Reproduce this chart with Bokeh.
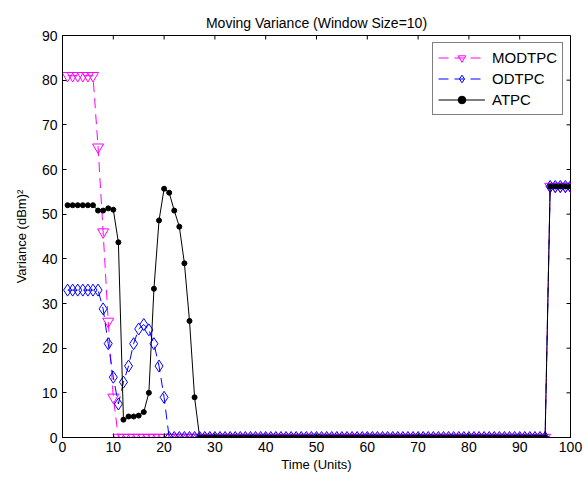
import math
from bokeh.plotting import figure
from bokeh.models import Range1d, FixedTicker, Legend, LegendItem
from bokeh.embed import file_html
from bokeh.resources import INLINE

# ---- data ----
x = list(range(1, 101))
modtpc_head = [81, 81, 81, 81, 81, 81, 65, 46, 26, 9]
odtpc_head = [33, 33, 33, 33, 33, 33, 33, 28.8, 21, 13.5, 7.5, 12.4, 16, 21, 24.3, 25.3, 24.1, 21, 16, 9]
atpc_head = [52, 52, 52, 52, 52, 52, 50.8, 50.8, 51.3, 51, 43.7, 4.0, 4.7, 4.7, 4.9, 5.7, 10.0, 33.3,
             48.6, 55.7, 54.8, 50.8, 47.2, 39.0, 26.1, 9.0]
tail = [56.2, 56.2, 56.2, 56.2, 56.2]
modtpc = modtpc_head + [0] * (95 - len(modtpc_head)) + tail
odtpc = odtpc_head + [0] * (95 - len(odtpc_head)) + tail
atpc = atpc_head + [0] * (95 - len(atpc_head)) + tail
x_ticks = list(range(0, 101, 10))
y_ticks = list(range(0, 91, 10))
X_MIN, X_MAX = 0, 100
Y_MIN, Y_MAX = 0, 90

FONT = "Liberation Sans"

p = figure(width=585, height=483, output_backend="svg", toolbar_location=None,
           x_range=Range1d(X_MIN, X_MAX), y_range=Range1d(Y_MIN, Y_MAX),
           min_border_left=62, min_border_right=15, min_border_top=35, min_border_bottom=46,
           title="Moving Variance (Window Size=10)")
p.title.align = "center"
p.title.text_font = FONT
p.title.text_font_size = "14px"
p.title.text_font_style = "normal"
p.title.text_color = "black"
p.grid.visible = False
p.outline_line_color = "black"
p.outline_line_width = 1
p.background_fill_color = "white"
p.border_fill_color = "white"

for ax in (p.xaxis[0], p.yaxis[0]):
    ax.major_tick_in = 4
    ax.major_tick_out = 0
    ax.minor_tick_line_color = None
    ax.major_label_text_font = FONT
    ax.major_label_text_font_size = "14px"
    ax.major_label_text_color = "black"
    ax.axis_label_text_font = FONT
    ax.axis_label_text_font_size = "13px"
    ax.axis_label_text_font_style = "normal"
    ax.axis_label_text_color = "black"
    ax.axis_line_color = "black"
    ax.major_tick_line_color = "black"
p.xaxis[0].ticker = FixedTicker(ticks=x_ticks)
p.yaxis[0].ticker = FixedTicker(ticks=y_ticks)
p.xaxis[0].axis_label = "Time (Units)"
p.yaxis[0].axis_label = "Variance (dBm)\u00b2"
p.xaxis[0].axis_label_standoff = 2
p.yaxis[0].axis_label_standoff = 10
p.xaxis[0].major_label_standoff = 4
p.yaxis[0].major_label_standoff = 5

# box ticks on top and right edges (half of each dash is clipped by the frame)
p.scatter(x_ticks, [Y_MAX] * len(x_ticks), marker="dash", angle=math.pi / 2, size=8,
          line_color="black", line_width=1)
p.scatter([X_MAX] * len(y_ticks), y_ticks, marker="dash", size=8,
          line_color="black", line_width=1)

l1 = p.line(x, modtpc, line_color="#FF00FF", line_width=1, line_dash="10 6")
s1 = p.scatter(x, modtpc, marker="inverted_triangle", size=11, line_color="#FF00FF",
               fill_alpha=0, line_width=1)
l2 = p.line(x, odtpc, line_color="#0000FF", line_width=1, line_dash="10 6")
s2 = p.scatter(x, odtpc, marker="diamond", size=12, line_color="#0000FF",
               fill_alpha=0, line_width=1)
l3 = p.line(x, atpc, line_color="black", line_width=1)
s3 = p.scatter(x, atpc, marker="circle", size=5, line_color="black", fill_color="black")

legend = Legend(items=[
    LegendItem(label="MODTPC", renderers=[l1, s1]),
    LegendItem(label="ODTPC", renderers=[l2, s2]),
    LegendItem(label="ATPC", renderers=[l3, s3]),
], location=(370, 322))
legend.label_text_font = FONT
legend.label_text_font_size = "15px"
legend.label_text_color = "black"
legend.glyph_width = 47
legend.glyph_height = 19
legend.spacing = 2
legend.padding = 5
legend.margin = 0
legend.label_standoff = 7
legend.border_line_color = "black"
legend.border_line_width = 1
legend.background_fill_alpha = 1
p.add_layout(legend)

open("out.html", "w").write(file_html(p, INLINE))
